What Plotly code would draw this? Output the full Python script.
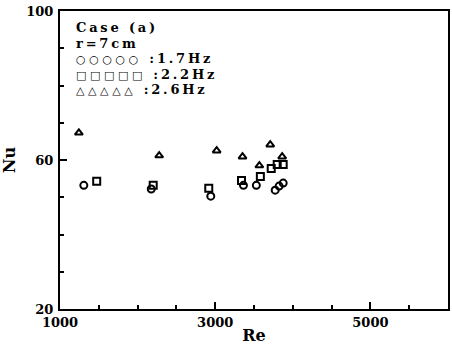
import plotly.graph_objects as go

# Data (Re, Nu)
re_17 = [1307, 2176, 2943, 3364, 3530, 3773, 3824, 3876]
nu_17 = [53.2, 52.2, 50.3, 53.2, 53.2, 51.9, 53.0, 53.8]

re_22 = [1473, 2201, 2917, 3339, 3582, 3722, 3799, 3876]
nu_22 = [54.3, 53.2, 52.4, 54.5, 55.6, 57.7, 58.8, 58.8]

re_26 = [1243, 2278, 3019, 3352, 3569, 3709, 3863]
nu_26 = [67.3, 61.2, 62.5, 60.9, 58.5, 64.1, 60.9]

x_ticks = [1000, 3000, 5000]
y_ticks = [20, 60, 100]

FONT = "DejaVu Serif"

fig = go.Figure()
mk = dict(color="black", size=7, line=dict(color="black", width=2))
fig.add_trace(go.Scatter(x=re_17, y=nu_17, mode="markers",
                         marker=dict(symbol="circle-open", **mk), name="1.7Hz"))
fig.add_trace(go.Scatter(x=re_22, y=nu_22, mode="markers",
                         marker=dict(symbol="square-open", **mk), name="2.2Hz"))
fig.add_trace(go.Scatter(x=re_26, y=nu_26, mode="markers",
                         marker=dict(symbol="triangle-up-open", **mk), name="2.6Hz"))

axis_common = dict(
    showgrid=False, zeroline=False, showline=True, linecolor="black",
    linewidth=2, mirror=True, ticks="inside", tickcolor="black",
    tickwidth=2, ticklen=7,
    tickfont=dict(family=FONT, size=13, color="black", weight="bold"),
)

fig.update_xaxes(range=[1000, 6000], tickvals=x_ticks,
                 ticktext=[str(v) for v in x_ticks],
                 minor=dict(dtick=500, ticks="inside", ticklen=4,
                            tickcolor="black", tickwidth=1.5),
                 ticklabelstandoff=0,
                 title=dict(text="<b>Re</b>", standoff=2,
                            font=dict(family=FONT, size=16, color="black")),
                 **axis_common)
fig.update_yaxes(range=[20, 100], tickvals=y_ticks,
                 ticktext=[str(v) for v in y_ticks],
                 minor=dict(dtick=10, ticks="inside", ticklen=4,
                            tickcolor="black", tickwidth=1.5),
                 ticklabelstandoff=2,
                 title=dict(text="<b>Nu</b>", standoff=8,
                            font=dict(family=FONT, size=16, color="black")),
                 **axis_common)

W, H = 452, 345
L, R, T, B = 60, 2, 11, 33
pw, ph = W - L - R, H - T - B


def px2paper(px, py):
    return (px - L) / pw, (H - B - py) / ph


SYM = "<span style='font-size:11px;letter-spacing:3.6px'>{}</span>"
legend_lines = [
    "Case (a)",
    "r=7cm",
    SYM.format("○○○○○") + " :1.7Hz",
    SYM.format("□□□□□") + " :2.2Hz",
    SYM.format("△△△△△") + " :2.6Hz",
]
text = "<br>".join(
    "<b><span style='font-size:13px;letter-spacing:2.8px'>" + t + "</span></b>"
    for t in legend_lines
)
xp, yp = px2paper(74, 18)
fig.add_annotation(xref="paper", yref="paper", x=xp, y=yp,
                   xanchor="left", yanchor="top", showarrow=False, align="left",
                   text=text,
                   font=dict(family=FONT, size=12, color="black"))

fig.update_layout(
    width=W, height=H, margin=dict(l=L, r=R, t=T, b=B),
    paper_bgcolor="white", plot_bgcolor="white", showlegend=False,
)

fig.write_html("out.html")
